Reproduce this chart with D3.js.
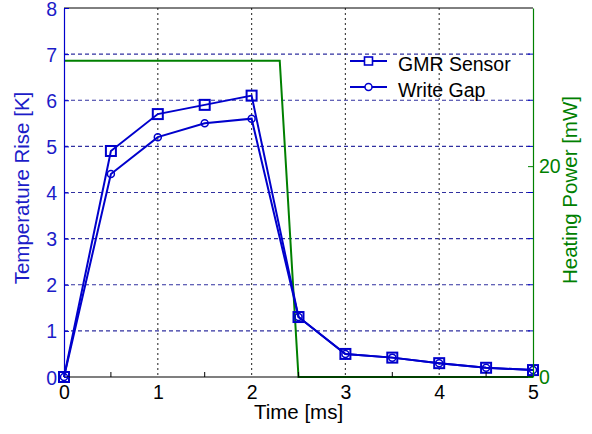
<!DOCTYPE html>
<html>
<head>
<meta charset="utf-8">
<script src="https://cdn.jsdelivr.net/npm/d3@7"></script>
<style>
  html, body { margin: 0; padding: 0; background: #fff; }
  svg { display: block; font-family: "Liberation Sans", Arial, sans-serif; }
</style>
</head>
<body>
<svg id="chart" width="592" height="434"></svg>
<script>
// Measured temperature rise (K) versus time (ms)
const timeMs = [0, 0.5, 1, 1.5, 2, 2.5, 3, 3.5, 4, 4.5, 5];
const gmrSensor = [0, 4.9, 5.7, 5.9, 6.1, 1.3, 0.5, 0.42, 0.3, 0.2, 0.15];
const writeGap = [0, 4.4, 5.2, 5.5, 5.6, 1.3, 0.5, 0.42, 0.3, 0.2, 0.15];

// Heating power pulse (mW)
const powerTime = [0, 2.3, 2.5, 5];
const powerMw = [30, 30, 0, 0];

const xTicks = [0, 1, 2, 3, 4, 5];
const xMinorTicks = [0.5, 1.5, 2.5, 3.5, 4.5];
const yTicks = [0, 1, 2, 3, 4, 5, 6, 7, 8];
const y2Ticks = [0, 20];

const BLUE = "#0000cc";
const BLUE_TXT = "#1c1cc8";
const GREEN = "#008000";
const FONT = "Liberation Sans, Arial, sans-serif";

const svg = d3.select("#chart");
const m = { left: 64, right: 533, top: 8, bottom: 377 };

const x = d3.scaleLinear().domain([0, 5]).range([m.left, m.right]);
const y = d3.scaleLinear().domain([0, 8]).range([m.bottom, m.top]);
const y2 = d3.scaleLinear().domain([0, 35]).range([m.bottom, m.top]);

// grid
const grid = svg.append("g");
grid.selectAll("line.h").data(yTicks.slice(1, -1)).join("line")
  .attr("x1", m.left).attr("x2", m.right)
  .attr("y1", d => y(d)).attr("y2", d => y(d))
  .attr("stroke", "#3030a0").attr("stroke-width", 1.2).attr("stroke-dasharray", "4,3");
grid.selectAll("line.v").data(xTicks.slice(1, -1)).join("line")
  .attr("y1", m.top).attr("y2", m.bottom)
  .attr("x1", d => x(d)).attr("x2", d => x(d))
  .attr("stroke", "#444").attr("stroke-width", 1.2).attr("stroke-dasharray", "2,3");

// heating power trace
svg.append("path")
  .datum(powerTime.map((t, i) => [t, powerMw[i]]))
  .attr("fill", "none").attr("stroke", GREEN).attr("stroke-width", 2)
  .attr("d", d3.line().x(d => x(d[0])).y(d => y2(d[1])));

// temperature traces
const line = d3.line().x((d, i) => x(timeMs[i])).y(d => y(d));
function drawSeries(vals, shape) {
  const g = svg.append("g");
  g.append("path").datum(vals).attr("fill", "none")
    .attr("stroke", BLUE).attr("stroke-width", 2).attr("d", line);
  vals.forEach((v, i) => {
    const cx = x(timeMs[i]), cy = y(v);
    if (shape === "square") {
      g.append("rect").attr("x", cx - 5).attr("y", cy - 5).attr("width", 10).attr("height", 10)
        .attr("fill", "none").attr("stroke", BLUE).attr("stroke-width", 2);
    } else {
      g.append("circle").attr("cx", cx).attr("cy", cy).attr("r", 3.5)
        .attr("fill", "none").attr("stroke", BLUE).attr("stroke-width", 1.5);
    }
  });
}
drawSeries(writeGap, "circle");
drawSeries(gmrSensor, "square");

// frame
svg.append("line").attr("x1", m.left).attr("x2", m.right).attr("y1", m.top).attr("y2", m.top)
  .attr("stroke", "#000").attr("stroke-width", 1);
svg.append("line").attr("x1", m.left).attr("x2", m.right).attr("y1", m.bottom).attr("y2", m.bottom)
  .attr("stroke", "#000").attr("stroke-width", 1.2);

// x axis
const xAxis = svg.append("g").attr("transform", `translate(0,${m.bottom})`)
  .call(d3.axisBottom(x).tickValues(xTicks).tickSize(0).tickPadding(8).tickFormat(d3.format("d")));
xAxis.select(".domain").remove();
xAxis.selectAll("text").attr("font-size", 19.5).attr("fill", "#000").attr("font-family", FONT);
svg.append("g").selectAll("line").data(xMinorTicks).join("line")
  .attr("x1", d => x(d)).attr("x2", d => x(d))
  .attr("y1", m.bottom).attr("y2", m.bottom - 5).attr("stroke", "#000").attr("stroke-width", 1);

// left axis
const yAxis = svg.append("g").attr("transform", `translate(${m.left},0)`)
  .call(d3.axisLeft(y).tickValues(yTicks).tickSizeInner(-5).tickSizeOuter(0).tickPadding(7).tickFormat(d3.format("d")));
yAxis.select(".domain").attr("stroke", BLUE).attr("stroke-width", 1.2);
yAxis.selectAll(".tick line").attr("stroke", BLUE);
yAxis.selectAll("text").attr("font-size", 19.5).attr("fill", BLUE_TXT).attr("font-family", FONT)
  .attr("dy", "0.36em");
// mirrored left-axis ticks on the right edge
svg.append("g").selectAll("line").data(yTicks.slice(1, -1)).join("line")
  .attr("x1", m.right - 5).attr("x2", m.right)
  .attr("y1", d => y(d)).attr("y2", d => y(d)).attr("stroke", BLUE).attr("stroke-width", 1);

// right axis
const y2Axis = svg.append("g").attr("transform", `translate(${m.right},0)`)
  .call(d3.axisRight(y2).tickValues(y2Ticks).tickSizeInner(-5).tickSizeOuter(0).tickPadding(6).tickFormat(d3.format("d")));
y2Axis.select(".domain").attr("stroke", GREEN).attr("stroke-width", 1.2);
y2Axis.selectAll(".tick line").attr("stroke", GREEN);
y2Axis.selectAll("text").attr("font-size", 19.5).attr("fill", GREEN).attr("font-family", FONT);

// axis titles
svg.append("text").attr("x", (m.left + m.right) / 2).attr("y", 419)
  .attr("text-anchor", "middle").attr("font-size", 20.5).attr("fill", "#000").text("Time [ms]");
svg.append("text").attr("transform", `translate(29,188) rotate(-90)`)
  .attr("text-anchor", "middle").attr("font-size", 20.5).attr("fill", BLUE_TXT).text("Temperature Rise [K]");
svg.append("text").attr("transform", `translate(577,190) rotate(-90)`)
  .attr("text-anchor", "middle").attr("font-size", 20.5).attr("fill", GREEN).text("Heating Power [mW]");

// legend
const legend = svg.append("g");
const items = [{ name: "GMR Sensor", shape: "square", yy: 61 }, { name: "Write Gap", shape: "circle", yy: 87 }];
items.forEach(it => {
  legend.append("line").attr("x1", 350).attr("x2", 387).attr("y1", it.yy).attr("y2", it.yy)
    .attr("stroke", BLUE).attr("stroke-width", 2);
  if (it.shape === "square") {
    legend.append("rect").attr("x", 368.5 - 4).attr("y", it.yy - 4).attr("width", 8).attr("height", 8)
      .attr("fill", "#fff").attr("stroke", BLUE).attr("stroke-width", 1.6);
  } else {
    legend.append("circle").attr("cx", 368.5).attr("cy", it.yy).attr("r", 3.5)
      .attr("fill", "#fff").attr("stroke", BLUE).attr("stroke-width", 1.5);
  }
  legend.append("text").attr("x", 398).attr("y", it.yy + 9.5).attr("font-size", 19.5)
    .attr("fill", "#000").text(it.name);
});
</script>
</body>
</html>
